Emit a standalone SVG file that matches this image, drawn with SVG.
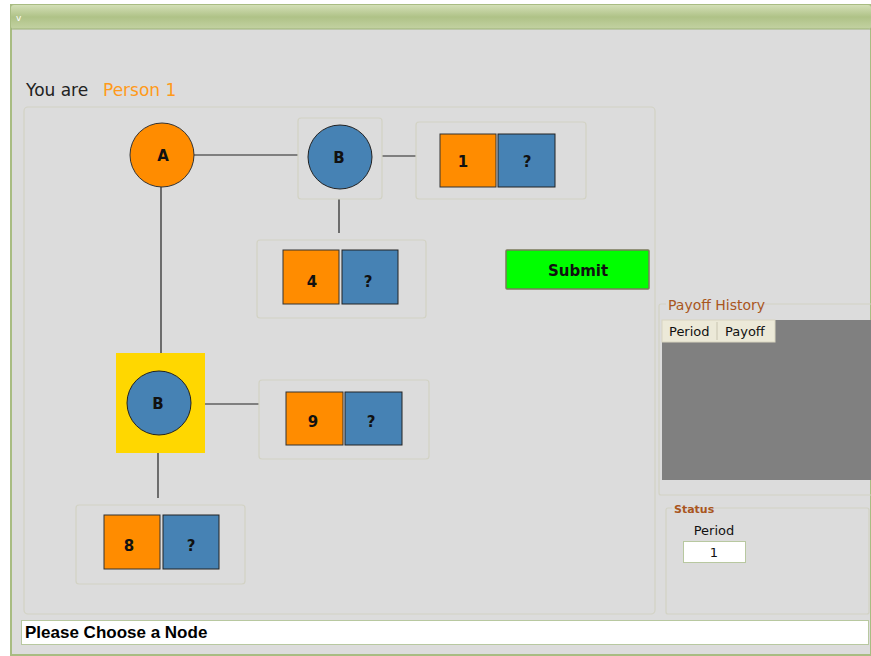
<svg xmlns="http://www.w3.org/2000/svg" width="871" height="656" viewBox="0 0 871 656">
<defs>
<linearGradient id="tb" x1="0" y1="0" x2="0" y2="1">
<stop offset="0" stop-color="#d3dfb6"/>
<stop offset="0.5" stop-color="#afc287"/>
<stop offset="1" stop-color="#c3d2a2"/>
</linearGradient>
<style>
.panel{fill:none;stroke:#d2d2c4;stroke-width:1.2}
.edge{stroke:#222;stroke-width:1.2;fill:none}
.orange{fill:#ff8c00;stroke:#333;stroke-width:1}
.blue{fill:#4682b4;stroke:#222;stroke-width:1}
.lbl{font-family:"DejaVu Sans",Verdana,sans-serif;font-weight:bold;font-size:15px;fill:#111;text-anchor:middle}
.ui{font-family:"DejaVu Sans",Verdana,sans-serif}
</style>
</defs>
<rect width="871" height="656" fill="#ffffff"/>
<rect x="11" y="5" width="860" height="650" fill="#dcdcdc" stroke="#a8bc82" stroke-width="2"/>
<rect x="11" y="5" width="860" height="24" rx="3" fill="url(#tb)"/>
<line x1="11" y1="29" x2="871" y2="29" stroke="#9cb078" stroke-width="1"/>
<text x="16" y="21" font-family="DejaVu Sans,sans-serif" font-size="9" fill="#fff">v</text>

<text x="26" y="96" class="ui" font-size="17" fill="#222">You are</text>
<text x="103" y="96" class="ui" font-size="17" fill="#ff9a1a">Person 1</text>

<rect x="24" y="107" width="631" height="507" rx="4" class="panel"/>

<g id="connectors">
<line x1="194" y1="155" x2="298" y2="155" class="edge"/>
<line x1="382" y1="156" x2="416" y2="156" class="edge"/>
<line x1="339" y1="199" x2="339" y2="233" class="edge"/>
<line x1="161" y1="187" x2="161" y2="353" class="edge"/>
<line x1="205" y1="404" x2="259" y2="404" class="edge" stroke="#555"/>
<line x1="158" y1="453" x2="158" y2="498" class="edge" stroke="#666" stroke-width="2"/>
</g>

<g id="nodeA">
<circle cx="162" cy="155" r="32" class="orange"/>
<text x="163" y="161" class="lbl" font-size="16">A</text>
</g>

<g id="nodeB1">
<rect x="298" y="118" width="84" height="81" rx="3" class="panel"/>
<circle cx="340" cy="157" r="32" class="blue"/>
<text x="339" y="163" class="lbl" font-size="16">B</text>
</g>

<g id="payoff1">
<rect x="416" y="122" width="170" height="77" rx="3" class="panel"/>
<rect x="440" y="134" width="56" height="53" class="orange"/>
<rect x="498" y="134" width="57" height="53" class="blue"/>
<text x="463" y="167" class="lbl">1</text>
<text x="527" y="167" class="lbl">?</text>
</g>

<g id="payoff4">
<rect x="257" y="240" width="169" height="78" rx="3" class="panel"/>
<rect x="283" y="250" width="56" height="54" class="orange"/>
<rect x="342" y="250" width="56" height="54" class="blue"/>
<text x="312" y="287" class="lbl">4</text>
<text x="368" y="287" class="lbl">?</text>
</g>

<g id="nodeB2">
<rect x="116" y="353" width="89" height="100" fill="#ffd700"/>
<circle cx="159" cy="403" r="32" class="blue"/>
<text x="158" y="409" class="lbl" font-size="16">B</text>
</g>

<g id="payoff9">
<rect x="259" y="380" width="170" height="79" rx="3" class="panel"/>
<rect x="286" y="392" width="57" height="53" class="orange"/>
<rect x="345" y="392" width="57" height="53" class="blue"/>
<text x="313" y="427" class="lbl">9</text>
<text x="371" y="427" class="lbl">?</text>
</g>

<g id="payoff8">
<rect x="76" y="505" width="169" height="79" rx="3" class="panel"/>
<rect x="104" y="515" width="56" height="54" class="orange"/>
<rect x="163" y="515" width="56" height="54" class="blue"/>
<text x="129" y="551" class="lbl">8</text>
<text x="191" y="551" class="lbl">?</text>
</g>

<g id="submit">
<rect x="506" y="250" width="143" height="39" fill="#00ff00" stroke="#7a7a5a" stroke-width="1.5" rx="1"/>
<text x="578" y="276" class="lbl" font-size="20">Submit</text>
</g>

<g id="payoffHistory">
<path d="M666 304 H661 Q659 304 659 306 V493 Q659 495 661 495 H871 M764 304 H871" class="panel"/>
<text x="668" y="310" class="ui" font-size="14" fill="#a9561e">Payoff History</text>
<rect x="662" y="320" width="209" height="160" fill="#808080"/>
<rect x="662" y="320" width="113" height="22" fill="#ece9d8" stroke="#d8d4c0"/>
<line x1="717" y1="322" x2="717" y2="340" stroke="#c8c4b0"/>
<text x="669" y="336" class="ui" font-size="13" fill="#111">Period</text>
<text x="725" y="336" class="ui" font-size="13" fill="#111">Payoff</text>
</g>

<g id="status">
<path d="M672 508 H668 Q666 508 666 510 V612 Q666 614 668 614 H867 Q869 614 869 612 V510 Q869 508 867 508 H712" class="panel"/>
<text x="674" y="513" class="ui" font-size="11" font-weight="bold" fill="#a9561e">Status</text>
<text x="714" y="535" class="ui" font-size="13" fill="#111" text-anchor="middle">Period</text>
<rect x="683.5" y="541.5" width="62" height="21" fill="#fff" stroke="#b8c8a0"/>
<text x="714" y="557" class="ui" font-size="13" fill="#111" text-anchor="middle">1</text>
</g>

<g id="statusbar">
<rect x="21.5" y="620.5" width="847" height="24" fill="#fff" stroke="#b8c8a0"/>
<text x="25" y="638" font-family="Liberation Sans,Arial,sans-serif" font-weight="bold" font-size="17" fill="#000">Please Choose a Node</text>
</g>
</svg>
